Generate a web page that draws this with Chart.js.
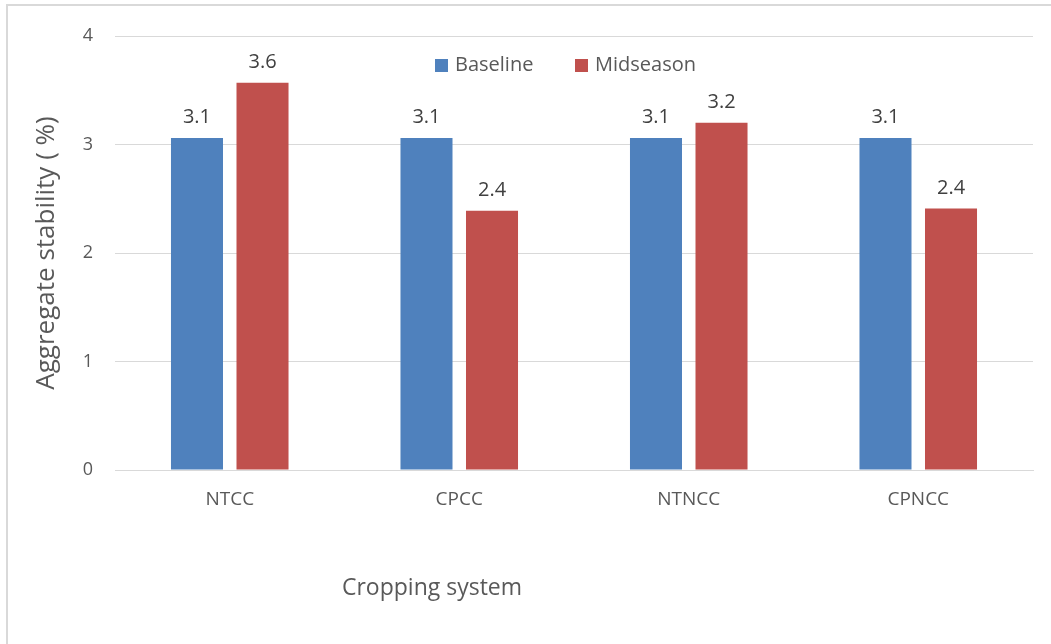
<!DOCTYPE html>
<html>
<head>
<meta charset="utf-8">
<script src="https://cdn.jsdelivr.net/npm/chart.js@4.4.1/dist/chart.umd.min.js"></script>
<style>
  html, body { margin: 0; padding: 0; background: #ffffff; }
  #wrap { position: relative; width: 1051px; height: 644px; }
  canvas { display: block; }
</style>
</head>
<body>
<div id="wrap"><canvas id="chart" width="1051" height="644"></canvas></div>
<script>
// Aggregate stability by cropping system
const categories = ['NTCC', 'CPCC', 'NTNCC', 'CPNCC'];
const baseline = [3.06, 3.06, 3.06, 3.06];
const midseason = [3.57, 2.39, 3.2, 2.41];
const seriesNames = ['Baseline', 'Midseason'];
const yTicks = [0, 1, 2, 3, 4];
const yTitle = 'Aggregate stability ( %)';
const xTitle = 'Cropping system';

const FONT = "'Open Sans', 'Liberation Sans', sans-serif";
const BLUE = '#4F81BD';
const RED = '#C0504D';

// Value labels above each bar
const valueLabels = {
  id: 'valueLabels',
  afterDatasetsDraw(chart) {
    const ctx = chart.ctx;
    ctx.save();
    ctx.font = '20px ' + FONT;
    ctx.fillStyle = '#404040';
    ctx.textAlign = 'center';
    ctx.textBaseline = 'alphabetic';
    chart.data.datasets.forEach((ds, i) => {
      chart.getDatasetMeta(i).data.forEach((bar, j) => {
        ctx.fillText(ds.data[j].toFixed(1), bar.x, bar.y - 15);
      });
    });
    ctx.restore();
  }
};

// Legend inside the plot, frame and x-axis title
const decorations = {
  id: 'decorations',
  afterDraw(chart) {
    const ctx = chart.ctx;
    ctx.save();
    // outer frame
    ctx.strokeStyle = '#d9d9d9';
    ctx.lineWidth = 2;
    ctx.beginPath();
    ctx.moveTo(7, 644);
    ctx.lineTo(7, 5);
    ctx.lineTo(1051, 5);
    ctx.stroke();

    // legend
    ctx.font = '20px ' + FONT;
    ctx.textBaseline = 'middle';
    ctx.textAlign = 'left';
    const entries = [
      { x: 435, label: seriesNames[0], color: chart.data.datasets[0].backgroundColor },
      { x: 575, label: seriesNames[1], color: chart.data.datasets[1].backgroundColor }
    ];
    entries.forEach(e => {
      ctx.fillStyle = e.color;
      ctx.fillRect(e.x, 59, 13, 13);
      ctx.fillStyle = '#595959';
      ctx.fillText(e.label, e.x + 20, 65);
    });

    // x-axis title
    ctx.font = '23px ' + FONT;
    ctx.textAlign = 'center';
    ctx.fillStyle = '#595959';
    ctx.fillText(xTitle, 432, 588);
    ctx.restore();
  }
};

new Chart(document.getElementById('chart'), {
  type: 'bar',
  data: {
    labels: categories,
    datasets: [
      { label: seriesNames[0], data: baseline, backgroundColor: BLUE },
      { label: seriesNames[1], data: midseason, backgroundColor: RED }
    ]
  },
  options: {
    responsive: false,
    animation: false,
    devicePixelRatio: 1,
    layout: { padding: { left: 10, top: 36, right: 18, bottom: 0 } },
    datasets: { bar: { categoryPercentage: 0.571, barPercentage: 0.794 } },
    plugins: { legend: { display: false }, tooltip: { enabled: false } },
    scales: {
      x: {
        grid: { display: false, drawTicks: false },
        border: { color: '#d9d9d9', width: 1 },
        ticks: { color: '#595959', font: { family: FONT, size: 19 }, padding: 18 },
        afterFit(scale) { scale.height = 174; }
      },
      y: {
        min: 0,
        max: 4,
        afterBuildTicks(scale) { scale.ticks = yTicks.map(v => ({ value: v })); },
        grid: { color: '#d9d9d9', lineWidth: 1, drawTicks: false },
        border: { display: false },
        ticks: { color: '#595959', font: { family: FONT, size: 18 }, padding: 22 },
        title: {
          display: true,
          text: yTitle,
          color: '#595959',
          font: { family: FONT, size: 26 },
          padding: { top: 21, bottom: 0 }
        },
        afterFit(scale) { scale.width = 105; }
      }
    }
  },
  plugins: [valueLabels, decorations]
});
</script>
</body>
</html>
